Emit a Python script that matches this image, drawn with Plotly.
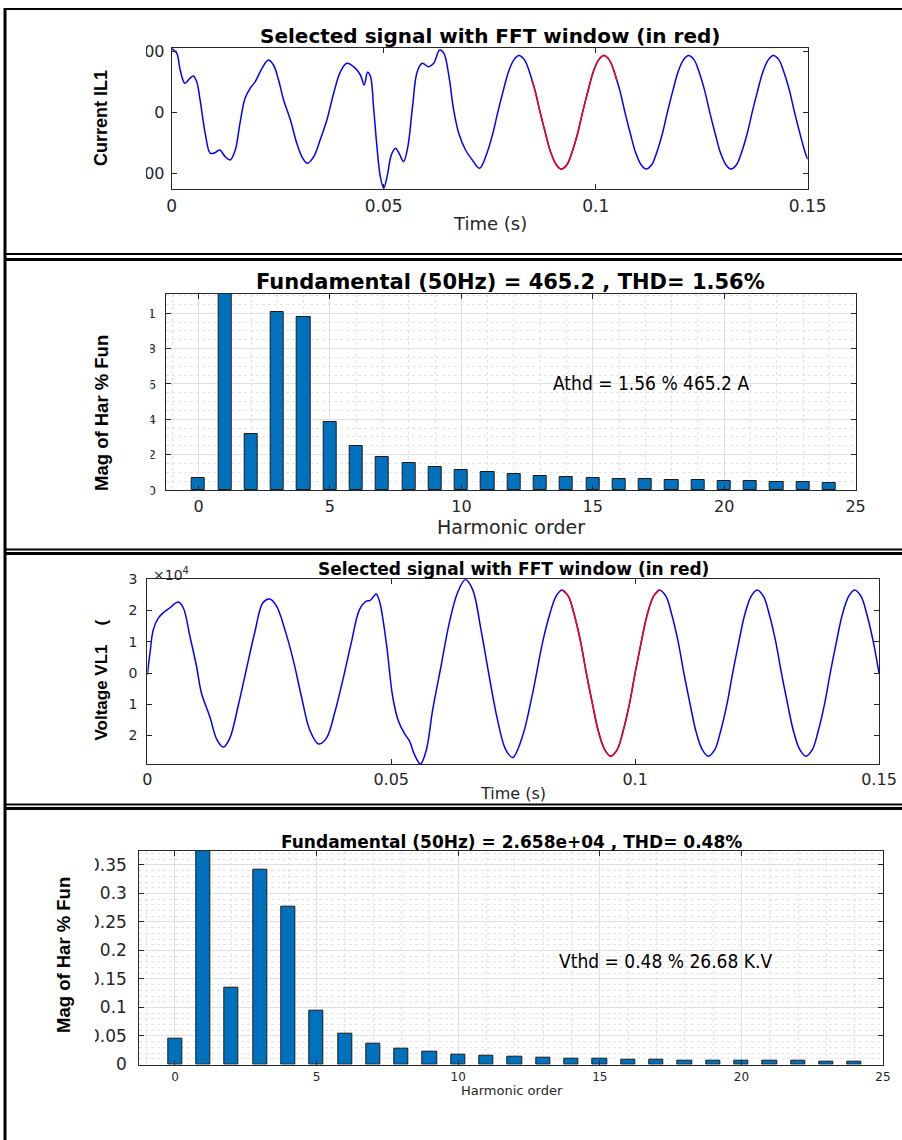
import plotly.graph_objects as go

W, H = 902, 1140

# ---------------- data ----------------
# Panel 1: current IL1 (A) vs time (s)
cur_t = [0.0000, 0.0012, 0.0020, 0.0031, 0.0043, 0.0051, 0.0059, 0.0067, 0.0079, 0.0091,
         0.0102, 0.0113, 0.0126, 0.0138, 0.0150, 0.0161, 0.0173, 0.0185, 0.0197, 0.0213,
         0.0228, 0.0240, 0.0252, 0.0264, 0.0280, 0.0295, 0.0307, 0.0320, 0.0335, 0.0350,
         0.0366, 0.0382, 0.0398, 0.0413, 0.0429, 0.0445, 0.0454, 0.0462, 0.0469, 0.0476,
         0.0484, 0.0492, 0.0500, 0.0508, 0.0518, 0.0528, 0.0538, 0.0547, 0.0557, 0.0568,
         0.0579, 0.0591, 0.0606, 0.0618, 0.0632, 0.0642, 0.0654, 0.0665, 0.0677, 0.0693,
         0.0709, 0.0726, 0.0744, 0.0757, 0.0769, 0.0782, 0.0794, 0.0807, 0.0819, 0.0832,
         0.0844, 0.0850, 0.0857, 0.0869, 0.0882, 0.0894, 0.0907, 0.0919, 0.0932, 0.0944,
         0.0957, 0.0969, 0.0982, 0.0994, 0.1007, 0.1019, 0.1032, 0.1044, 0.1050, 0.1057,
         0.1069, 0.1082, 0.1094, 0.1107, 0.1119, 0.1132, 0.1144, 0.1157, 0.1169, 0.1182,
         0.1194, 0.1207, 0.1219, 0.1232, 0.1244, 0.1257, 0.1269, 0.1282, 0.1294, 0.1307,
         0.1319, 0.1332, 0.1344, 0.1357, 0.1369, 0.1382, 0.1394, 0.1407, 0.1419, 0.1432,
         0.1444, 0.1457, 0.1469, 0.1482, 0.1494, 0.1500]
cur_i = [525, 484, 347, 238, 279, 298, 251, 101, -172, -336,
         -331, -309, -363, -391, -309, -90, 115, 197, 251, 361,
         429, 388, 265, 101, -63, -254, -363, -418, -363, -227,
         -63, 156, 333, 402, 374, 306, 224, 328, 292, 46,
         -281, -527, -623, -527, -350, -295, -350, -404, -281, 46,
         333, 402, 374, 402, 511, 484, 292, 19, -172, -309,
         -391, -459, -329, -178, 0, 178, 329, 430, 465, 430,
         329, 261, 178, 0, -178, -329, -430, -465, -430, -329,
         -178, 0, 178, 329, 430, 465, 430, 329, 261, 178,
         0, -178, -329, -430, -465, -430, -329, -178, 0, 178,
         329, 430, 465, 430, 329, 178, 0, -178, -329, -430,
         -465, -430, -329, -178, 0, 178, 329, 430, 465, 430,
         329, 178, 0, -178, -329, -385]

# Panel 3: voltage VL1 (V) vs time (s)
volt_t = [0.0000, 0.00055, 0.00123, 0.00225, 0.00327, 0.00464, 0.00634, 0.00737, 0.00873, 0.0101,
          0.0111, 0.0128, 0.0143, 0.0156, 0.0169, 0.0186, 0.0203, 0.0220, 0.0237, 0.0251,
          0.0265, 0.0282, 0.0299, 0.0316, 0.0333, 0.0351, 0.0367, 0.0384, 0.0401, 0.0418,
          0.0435, 0.0449, 0.0456, 0.0462, 0.0469, 0.0476, 0.0490, 0.0503, 0.0514, 0.0527,
          0.0538, 0.0548, 0.0560, 0.0572, 0.0585, 0.0602, 0.0619, 0.0636, 0.0652, 0.0667,
          0.0684, 0.0701, 0.0718, 0.0735, 0.0749, 0.0769, 0.0790, 0.0810, 0.0825, 0.0838,
          0.0850, 0.0863, 0.0875, 0.0888, 0.0900, 0.0913, 0.0925, 0.0938, 0.0950, 0.0963,
          0.0975, 0.0988, 0.1000, 0.1013, 0.1025, 0.1038, 0.1050, 0.1063, 0.1075, 0.1088,
          0.1100, 0.1113, 0.1125, 0.1138, 0.1150, 0.1163, 0.1175, 0.1188, 0.1200, 0.1213,
          0.1225, 0.1238, 0.1250, 0.1263, 0.1275, 0.1288, 0.1300, 0.1313, 0.1325, 0.1338,
          0.1350, 0.1363, 0.1375, 0.1388, 0.1400, 0.1413, 0.1425, 0.1438, 0.1450, 0.1463,
          0.1475, 0.1488, 0.1500]
volt_v = [-500, 6400, 13900, 17600, 19300, 20900, 22700, 20900, 11800, 2100,
          -6400, -13900, -21400, -23700, -20900, -10700, 1100, 12800, 22500, 23700,
          21400, 13900, 4300, -7500, -18200, -22700, -20900, -12800, -2100, 9600,
          20300, 23000, 23200, 24100, 25300, 23000, 9600, -7500, -15000, -19300,
          -21900, -26200, -29100, -24600, -11800, 2100, 16000, 25700, 29900, 26700,
          13900, -1100, -15000, -24600, -27000, -20300, -6400, 9600, 18800, 24600,
          26600, 24600, 18800, 10200, 0, -10200, -18800, -24600, -26600, -24600,
          -18800, -10200, 0, 10200, 18800, 24600, 26600, 24600, 18800, 10200,
          0, -10200, -18800, -24600, -26600, -24600, -18800, -10200, 0, 10200,
          18800, 24600, 26600, 24600, 18800, 10200, 0, -10200, -18800, -24600,
          -26600, -24600, -18800, -10200, 0, 10200, 18800, 24600, 26600, 24600,
          18800, 10200, 0]

# FFT window (red) limits, s
win_start, win_end = 0.085, 0.105

# Panel 2 / 4: harmonic spectra (% of fundamental)
harm_order = list(range(25))
cur_harm = [0.07, 100, 0.315, 1.006, 0.979, 0.385, 0.247, 0.185, 0.151, 0.128,
            0.111, 0.100, 0.089, 0.079, 0.074, 0.068, 0.064, 0.060, 0.057, 0.055,
            0.051, 0.049, 0.045, 0.045, 0.042]
volt_harm = [0.045, 100, 0.134, 0.342, 0.276, 0.0945, 0.054, 0.037, 0.027, 0.022,
             0.018, 0.015, 0.013, 0.012, 0.0105, 0.0094, 0.0088, 0.0076, 0.0070, 0.0070,
             0.0064, 0.0060, 0.0058, 0.0055, 0.0052]

volt_tickvals = [-20000, -10000, 0, 10000, 20000, 30000]
volt_ticktext = ["\u22122", "\u22121", "0", "1", "2", "3"]

title_sig = "Selected signal with FFT window (in red)"
title_cur_fft = "Fundamental (50Hz) = 465.2 , THD= 1.56%"
title_volt_fft = "Fundamental (50Hz) = 2.658e+04 , THD= 0.48%"
note_cur = "Athd = 1.56 % 465.2 A"
note_volt = "Vthd = 0.48 % 26.68 K.V"

# ---------------- helpers ----------------
def px(x):
    return x / W

def py(y):
    return 1 - y / H

TXT = "#262626"
BLUE = "#0000FF"
RED = "#FF0000"
BAR = "#0072BD"
WIDE = "DejaVu Sans"
SANS = "Liberation Sans, Arial, sans-serif"
NARROW = "Liberation Sans Narrow, DejaVu Sans Condensed, Liberation Sans, sans-serif"

fig = go.Figure()

def in_win(ts, vs):
    xs, ys = [], []
    for t, v in zip(ts, vs):
        if win_start - 1e-9 <= t <= win_end + 1e-9:
            xs.append(t)
            ys.append(v)
    return xs, ys

LINE = dict(width=1.5, shape="spline", smoothing=1.0)

fig.add_trace(go.Scatter(x=cur_t, y=cur_i, mode="lines", line=dict(color=BLUE, **LINE),
                         xaxis="x", yaxis="y", showlegend=False, hoverinfo="skip"))
rx, ry = in_win(cur_t, cur_i)
fig.add_trace(go.Scatter(x=rx, y=ry, mode="lines", line=dict(color=RED, **LINE),
                         xaxis="x", yaxis="y", showlegend=False, hoverinfo="skip"))
fig.add_trace(go.Bar(x=harm_order, y=cur_harm, width=0.5, marker=dict(color=BAR, line=dict(color="#1a1a1a", width=1)),
                     xaxis="x2", yaxis="y2", showlegend=False, hoverinfo="skip"))
fig.add_trace(go.Scatter(x=volt_t, y=volt_v, mode="lines", line=dict(color=BLUE, **LINE),
                         xaxis="x3", yaxis="y3", showlegend=False, hoverinfo="skip"))
rx, ry = in_win(volt_t, volt_v)
fig.add_trace(go.Scatter(x=rx, y=ry, mode="lines", line=dict(color=RED, **LINE),
                         xaxis="x3", yaxis="y3", showlegend=False, hoverinfo="skip"))
fig.add_trace(go.Bar(x=harm_order, y=volt_harm, width=0.5, marker=dict(color=BAR, line=dict(color="#1a1a1a", width=1)),
                     xaxis="x4", yaxis="y4", showlegend=False, hoverinfo="skip"))

def axis(dom, rng, size, **kw):
    d = dict(domain=dom, range=rng, showline=True, mirror="ticks", linecolor=TXT, linewidth=1,
             ticks="inside", ticklen=5, tickcolor=TXT, showgrid=False, zeroline=False,
             tickfont=dict(family=WIDE, size=size, color=TXT))
    d.update(kw)
    return d

# Panel plot areas (pixels)
p1 = dict(x=(171.7, 807.7), y=(48.3, 189.0))
p2 = dict(x=(165.7, 855.6), y=(294.0, 490.0))
p3 = dict(x=(147.3, 879.0), y=(579.3, 764.0))
p4 = dict(x=(139.3, 883.0), y=(850.7, 1064.5))

def dx(p):
    return [px(p["x"][0]), px(p["x"][1])]

def dy(p):
    return [py(p["y"][1]), py(p["y"][0])]

grid_major = "#e0e0e0"
grid_minor = "#e3e3e3"

layout = dict(
    width=W, height=H, margin=dict(l=0, r=0, t=0, b=0, autoexpand=False), autosize=False,
    paper_bgcolor="white", plot_bgcolor="white", bargap=0,
    xaxis=axis(dx(p1), [0, 0.15], 17, dtick=0.05, tick0=0, anchor="y", ticklabelstandoff=2),
    yaxis=axis(dy(p1), [-629, 525], 16, tickvals=[-500, 0, 500], anchor="x", ticklabelstandoff=3),
    xaxis2=axis(dx(p2), [-1.25, 25], 16, dtick=5, tick0=0, anchor="y2", showgrid=True, gridcolor=grid_major,
                minor=dict(dtick=1, tick0=0, showgrid=True, gridcolor=grid_minor, griddash="dot", ticks=""),
                ticklabelstandoff=2),
    yaxis2=axis(dy(p2), [0, 1.109], 13, dtick=0.2, tick0=0, anchor="x2", showgrid=True, gridcolor=grid_major,
                minor=dict(dtick=0.05, tick0=0, showgrid=True, gridcolor=grid_minor, griddash="dot", ticks=""),
                ticklabelstandoff=6),
    xaxis3=axis(dx(p3), [0, 0.15], 16, dtick=0.05, tick0=0, anchor="y3", ticklabelstandoff=1),
    yaxis3=axis(dy(p3), [-29100, 30000], 14, tickvals=volt_tickvals, ticktext=volt_ticktext, anchor="x3",
                ticklabelstandoff=6),
    xaxis4=axis(dx(p4), [-1.26, 25], 12, dtick=5, tick0=0, anchor="y4", showgrid=True, gridcolor=grid_major,
                minor=dict(dtick=1, tick0=0, showgrid=True, gridcolor=grid_minor, griddash="dot", ticks=""),
                ticklabelstandoff=1),
    yaxis4=axis(dy(p4), [0, 0.375], 17, dtick=0.05, tick0=0, anchor="x4", showgrid=True, gridcolor=grid_major,
                minor=dict(dtick=0.01, tick0=0, showgrid=True, gridcolor=grid_minor, griddash="dot", ticks=""),
                ticklabelstandoff=8),
)
fig.update_layout(**layout)

ann = []

def text(x, y, s, size, family=WIDE, color=TXT, bold=False, angle=0, xanchor="center"):
    ann.append(dict(x=px(x), y=py(y), xref="paper", yref="paper", text=(f"<b>{s}</b>" if bold else s),
                    showarrow=False, xanchor=xanchor, yanchor="middle", textangle=angle,
                    font=dict(family=family, size=size, color=color)))

# Panel 1 texts
text(490, 35.5, title_sig, 20, color="black", bold=True)
text(490, 223.5, "Time (s)", 18)
text(101, 118, "Current IL1", 18, family=SANS, color="black", bold=True, angle=-90)
# Panel 2 texts
text(510, 281.5, title_cur_fft, 21, color="black", bold=True)
text(511, 527, "Harmonic order", 19)
text(101, 413, "Mag of Har % Fun", 18.5, family=SANS, color="black", bold=True, angle=-90)
text(651, 383, note_cur, 19, family=NARROW, color="black")
# Panel 3 texts
text(513, 568.5, title_sig, 17, color="black", bold=True)
text(151, 573.5, "\u00d710<sup>4</sup>", 14, xanchor="left")
text(513, 793.5, "Time (s)", 16)
text(100.5, 680, "Voltage VL1\u00a0\u00a0\u00a0\u00a0(", 17, family=SANS, color="black", bold=True, angle=-90)
# Panel 4 texts
text(511, 841.5, title_volt_fft, 17, color="black", bold=True)
text(512, 1090, "Harmonic order", 13)
text(63, 955, "Mag of Har % Fun", 18.5, family=SANS, color="black", bold=True, angle=-90)
text(665, 961, note_volt, 19, family=NARROW, color="black")

fig.update_layout(annotations=ann)

shapes = []

def hline(y, w, x0=5, x1=W):
    shapes.append(dict(type="line", xref="paper", yref="paper", x0=px(x0), x1=px(x1), y0=py(y), y1=py(y),
                       line=dict(color="black", width=w), layer="above"))

def white(x0, x1, y0, y1):
    shapes.append(dict(type="rect", xref="paper", yref="paper", x0=px(x0), x1=px(x1), y0=py(y1), y1=py(y0),
                       fillcolor="white", line=dict(width=0), layer="above"))

# clipped tick-label regions (the reference panels are cropped on the left)
white(108, 146, 40, 195)
white(110, 150.5, 288, 496)
white(105, 127.5, 572, 770)
white(74, 95, 845, 1070)

# frame lines
shapes.append(dict(type="line", xref="paper", yref="paper", x0=px(5), x1=px(5), y0=py(8), y1=0,
                   line=dict(color="black", width=3), layer="above"))
hline(9, 2)
hline(254, 2)
hline(259.5, 3)
hline(549.5, 2)
hline(553.5, 3)
hline(804.5, 2)
hline(808.5, 3)

fig.update_layout(shapes=shapes)

fig.write_html("out.html")
